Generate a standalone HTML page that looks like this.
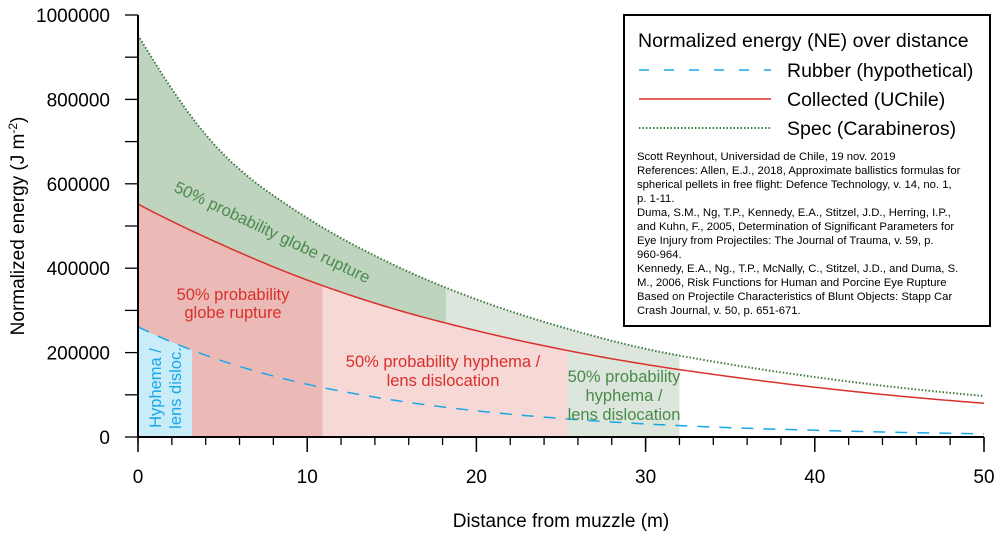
<!DOCTYPE html>
<html><head><meta charset="utf-8"><style>
body{margin:0;background:#fff;}
svg{font-family:"Liberation Sans",Arial,sans-serif;}
</style></head><body>
<svg id="chart" width="1000" height="534" viewBox="0 0 1000 534">
<g id="fills"></g>
<g id="curves"></g>
<g id="axes"></g>
<g id="labels">
<text x="0" y="0" font-size="16.5" fill="#4a8a4a" transform="translate(173,191) rotate(25.5)">50% probability globe rupture</text>
<text x="233" y="300" font-size="16.5" fill="#d9302c" text-anchor="middle">50% probability</text>
<text x="233" y="318" font-size="16.5" fill="#d9302c" text-anchor="middle">globe rupture</text>
<text x="443" y="367" font-size="16.5" fill="#d9302c" text-anchor="middle">50% probability hyphema /</text>
<text x="443" y="386" font-size="16.5" fill="#d9302c" text-anchor="middle">lens dislocation</text>
<text x="624" y="382" font-size="16.5" fill="#4a8a4a" text-anchor="middle">50% probability</text>
<text x="624" y="401" font-size="16.5" fill="#4a8a4a" text-anchor="middle">hyphema /</text>
<text x="624" y="420" font-size="16.5" fill="#4a8a4a" text-anchor="middle">lens dislocation</text>
<text font-size="16.5" fill="#1aa7e8" text-anchor="middle" transform="translate(161,388) rotate(-90)">Hyphema /</text>
<text font-size="16.5" fill="#1aa7e8" text-anchor="middle" transform="translate(181,388) rotate(-90)">lens disloc.</text>
</g>
<g>
<rect x="624" y="15" width="366" height="311" fill="#fff" stroke="#000" stroke-width="2"/>
<text x="638" y="47" font-size="19.5">Normalized energy (NE) over distance</text>
<line x1="639" y1="70" x2="771" y2="70" stroke="#1aa7e8" stroke-width="1.5" stroke-dasharray="10,15"/>
<text x="787" y="77" font-size="19.5">Rubber (hypothetical)</text>
<line x1="639" y1="99" x2="771" y2="99" stroke="#d9302c" stroke-width="1.5"/>
<text x="787" y="106" font-size="19.5">Collected (UChile)</text>
<line x1="639" y1="128" x2="771" y2="128" stroke="#3d7a3d" stroke-width="2" stroke-dasharray="1.5,2"/>
<text x="787" y="135" font-size="19.5">Spec (Carabineros)</text>
<g font-size="11.3" fill="#000">
<text x="637" y="160">Scott Reynhout, Universidad de Chile, 19 nov. 2019</text>
<text x="637" y="174">References: Allen, E.J., 2018, Approximate ballistics formulas for</text>
<text x="637" y="188">spherical pellets in free flight: Defence Technology, v. 14, no. 1,</text>
<text x="637" y="202">p. 1-11.</text>
<text x="637" y="216">Duma, S.M., Ng, T.P., Kennedy, E.A., Stitzel, J.D., Herring, I.P.,</text>
<text x="637" y="230">and Kuhn, F., 2005, Determination of Significant Parameters for</text>
<text x="637" y="244">Eye Injury from Projectiles: The Journal of Trauma, v. 59, p.</text>
<text x="637" y="258">960-964.</text>
<text x="637" y="272">Kennedy, E.A., Ng., T.P., McNally, C., Stitzel, J.D., and Duma, S.</text>
<text x="637" y="286">M., 2006, Risk Functions for Human and Porcine Eye Rupture</text>
<text x="637" y="300">Based on Projectile Characteristics of Blunt Objects: Stapp Car</text>
<text x="637" y="314">Crash Journal, v. 50, p. 651-671.</text>
</g>
</g>
</svg>
<script>
const distances = [0,5,10,15,20,25,30,35,40,45,50];
const specValues = [952000,672000,519000,410000,326000,261000,209000,172000,142000,117000,97000];
const collectedValues = [552000,455000,372000,305000,252000,208000,172000,143000,118000,97000,80000];
const rubberValues = [261000,180000,125000,88000,62000,44000,31000,22000,16000,11000,7500];
const xTickLabels = [0,10,20,30,40,50];
const yTickLabels = [0,200000,400000,600000,800000,1000000];
const zoneBreaks = [3.2,10.9,18.2,25.4,32];

const NS="http://www.w3.org/2000/svg";
const X0=138,X1=984,Y0=437,Y1=15;
const xs=d=>X0+d/50*(X1-X0);
const ys=v=>Y0-v/1000000*(Y0-Y1);
// monotone cubic (Fritsch-Carlson) interpolation in log space
function val(arr,d){
  const n=distances.length, L=arr.map(Math.log), h=[], s=[];
  for(let i=0;i<n-1;i++){h.push(distances[i+1]-distances[i]);s.push((L[i+1]-L[i])/h[i]);}
  const m=[s[0]];
  for(let i=1;i<n-1;i++){m.push(s[i-1]*s[i]<=0?0:(s[i-1]+s[i])/2);}
  m.push(s[n-2]);
  let i=Math.min(Math.max(0,Math.floor((d-distances[0])/5)),n-2);
  const t=(d-distances[i])/h[i],t2=t*t,t3=t2*t;
  const y=(2*t3-3*t2+1)*L[i]+(t3-2*t2+t)*h[i]*m[i]+(-2*t3+3*t2)*L[i+1]+(t3-t2)*h[i]*m[i+1];
  return Math.exp(y);
}
function curvePts(arr,a,b){const p=[];const n=Math.max(2,Math.ceil((b-a)/0.25));for(let k=0;k<=n;k++){const d=a+(b-a)*k/n;p.push([xs(d),ys(val(arr,d))]);}return p;}
function area(arr,a,b,fill,name){
  const p=curvePts(arr,a,b);
  let s=`M${xs(a)},${Y0} `+p.map(q=>`L${q[0]},${q[1]}`).join(' ')+` L${xs(b)},${Y0} Z`;
  const el=document.createElementNS(NS,'path');el.setAttribute('d',s);el.setAttribute('fill',fill);
  
  
  document.getElementById('fills').appendChild(el);
}
area(specValues,0,zoneBreaks[2],'#bfd4bf','spec-globe-rupture-zone');
area(specValues,zoneBreaks[2],zoneBreaks[4],'#dce6dc','spec-hyphema-zone');
area(collectedValues,0,zoneBreaks[1],'#ecbab6','collected-globe-rupture-zone');
area(collectedValues,zoneBreaks[1],zoneBreaks[3],'#f6d8d6','collected-hyphema-zone');
area(rubberValues,0,zoneBreaks[0],'#c8ecf8','rubber-hyphema-zone');

function line(arr,stroke,w,dash,name){
  const p=curvePts(arr,0,50);
  const el=document.createElementNS(NS,'path');
  el.setAttribute('d','M'+p.map(q=>q[0]+','+q[1]).join(' L'));
  el.setAttribute('fill','none');el.setAttribute('stroke',stroke);el.setAttribute('stroke-width',w);
  if(dash)el.setAttribute('stroke-dasharray',dash);
  
  
  document.getElementById('curves').appendChild(el);
}
line(rubberValues,'#1aa7e8',1.5,'12,10','rubber-line');
line(collectedValues,'#d9302c',1.5,null,'collected-line');
line(specValues,'#3d7a3d',2,'1.5,2','spec-line');

const ax=document.getElementById('axes');
function mk(tag,attrs,text){const e=document.createElementNS(NS,tag);for(const k in attrs)e.setAttribute(k,attrs[k]);if(text!=null)e.textContent=text;ax.appendChild(e);return e;}
let e=mk('line',{x1:X0,y1:Y1,x2:X0,y2:Y0+1,stroke:'#000','stroke-width':2});


e=mk('line',{x1:X0-1,y1:Y0,x2:X1,y2:Y0,stroke:'#000','stroke-width':2});


for(let d=0;d<=50;d+=2){mk('line',{x1:xs(d),y1:Y0,x2:xs(d),y2:Y0+8,stroke:'#000','stroke-width':1.3});}
for(let d=0;d<=50;d+=10){mk('line',{x1:xs(d),y1:Y0,x2:xs(d),y2:Y0+15,stroke:'#000','stroke-width':1.5});}
for(let v=0;v<=1000000;v+=100000){mk('line',{x1:X0-13,y1:ys(v),x2:X0,y2:ys(v),stroke:'#000','stroke-width':1.3});}
xTickLabels.forEach(d=>{e=mk('text',{x:xs(d),y:483,'font-size':19,'text-anchor':'middle'},String(d));
 
 });
yTickLabels.forEach(v=>{e=mk('text',{x:110,y:ys(v)+7,'font-size':19,'text-anchor':'end'},String(v));
 
 });
e=mk('text',{x:561,y:527,'font-size':19,'text-anchor':'middle'},'Distance from muzzle (m)');


e=mk('text',{transform:'translate(24,226) rotate(-90)','font-size':19,'text-anchor':'middle'},'');
e.innerHTML='Normalized energy (J m<tspan dy="-7" font-size="12">-2</tspan><tspan dy="7">)</tspan>';


</script>
</body></html>
